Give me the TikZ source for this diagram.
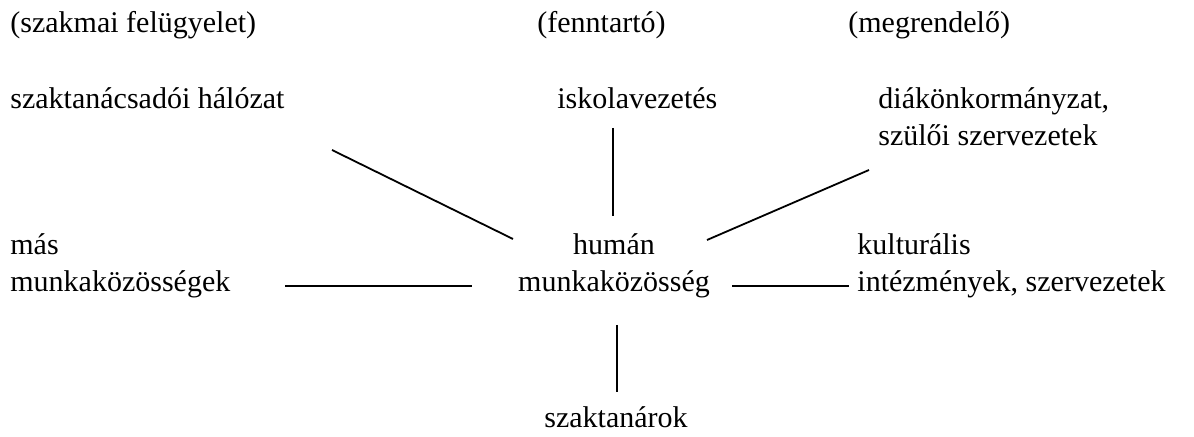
\documentclass[tikz,border=0pt]{standalone}
\usepackage{fontspec}
\setmainfont{Liberation Serif}
\begin{document}
\begin{tikzpicture}[x=0.5pt,y=-0.5pt,
		font=\fontsize{15}{18.5}\selectfont,
		lbl/.style={anchor=base west, inner sep=0pt, align=left},
		mid/.style={anchor=base, inner sep=0pt, align=center},
		link/.style={line width=0.9pt},
	]
	\useasboundingbox (0,0) rectangle (1194,437);

	% roles
	\node[lbl] (szakmai) at (10,33) {(szakmai felügyelet)};
	\node[lbl] (fenntarto) at (537,33) {(fenntartó)};
	\node[lbl] (megrendelo) at (848,33) {(megrendelő)};

	% partners (base = last line)
	\node[lbl] (halozat) at (10,109) {szaktanácsadói hálózat};
	\node[lbl] (vezetes) at (557,109) {iskolavezetés};
	\node[lbl] (diak) at (878,146) {diákönkormányzat,\\szülői szervezetek};
	\node[lbl] (mas) at (10,292) {más\\munkaközösségek};
	\node[mid] (human) at (614,292) {humán\\munkaközösség};
	\node[lbl] (kult) at (857,292) {kulturális\\intézmények, szervezetek};
	\node[mid] (tanarok) at (616,428) {szaktanárok};

	% line ends
	\coordinate (halozat-a) at (332,150);
	\coordinate (halozat-b) at (513,239);
	\coordinate (vezetes-a) at (613,128);
	\coordinate (vezetes-b) at (613,216);
	\coordinate (diak-a) at (869,170);
	\coordinate (diak-b) at (707,240);
	\coordinate (mas-a) at (285,286);
	\coordinate (mas-b) at (472,286);
	\coordinate (kult-a) at (732,286);
	\coordinate (kult-b) at (849,286);
	\coordinate (tanarok-a) at (617,325);
	\coordinate (tanarok-b) at (617,392);

	% connectors
	\foreach \n in {halozat,vezetes,diak,mas,kult,tanarok}
		\draw[link] (\n-a) -- (\n-b);
\end{tikzpicture}
\end{document}
